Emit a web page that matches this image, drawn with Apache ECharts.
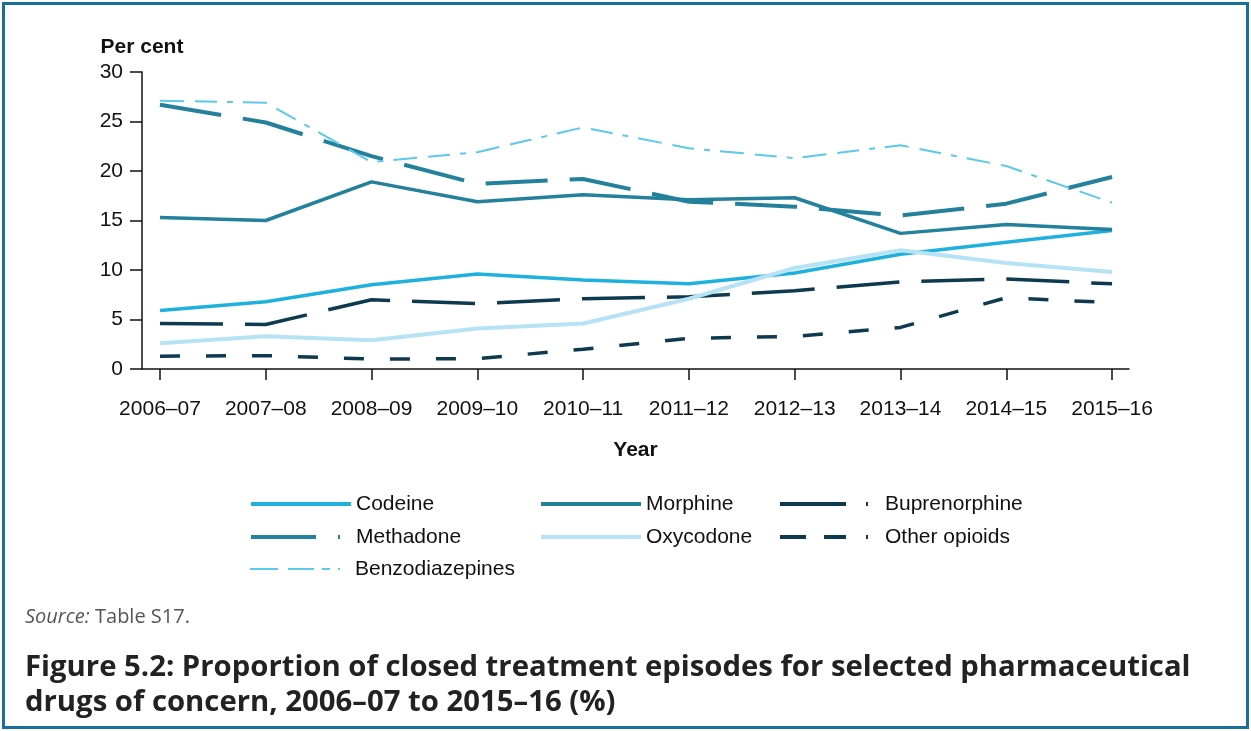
<!DOCTYPE html>
<html>
<head>
<meta charset="utf-8">
<script src="https://cdn.jsdelivr.net/npm/echarts@6/dist/echarts.min.js"></script>
<style>
  html, body { margin: 0; padding: 0; background: #fff; }
  #chart { width: 1251px; height: 731px; }
</style>
</head>
<body>
<div id="chart"></div>
<script>
// 年份（横轴）
const years = ['2006–07', '2007–08', '2008–09', '2009–10', '2010–11', '2011–12', '2012–13', '2013–14', '2014–15', '2015–16'];
const yTicks = [0, 5, 10, 15, 20, 25, 30];

const codeine = [5.9, 6.8, 8.5, 9.6, 9.0, 8.6, 9.7, 11.6, 12.8, 14.0];
const morphine = [15.3, 15.0, 18.9, 16.9, 17.6, 17.1, 17.3, 13.7, 14.6, 14.1];
const buprenorphine = [4.6, 4.5, 7.0, 6.6, 7.1, 7.3, 7.9, 8.8, 9.1, 8.6];
const methadone = [26.7, 24.9, 21.5, 18.7, 19.2, 16.9, 16.4, 15.5, 16.7, 19.4];
const oxycodone = [2.6, 3.3, 2.9, 4.1, 4.6, 7.1, 10.2, 12.0, 10.7, 9.8];
const otherOpioids = [1.3, 1.35, 1.0, 1.05, 2.0, 3.1, 3.3, 4.2, 7.2, 6.7];
const benzodiazepines = [27.1, 26.9, 20.9, 21.9, 24.4, 22.3, 21.3, 22.6, 20.5, 16.8];

const pairs = arr => arr.map((v, i) => [i, v]);

const chart = echarts.init(document.getElementById('chart'), null, {renderer: 'canvas'});

const font = '"Liberation Sans", Arial, sans-serif';

function line(name, data, color, width, type) {
  return {
    name: name,
    type: 'line',
    data: pairs(data),
    symbol: 'none',
    showSymbol: false,
    color: color,
    lineStyle: {color: color, width: width, type: type, cap: 'butt'},
    z: 3
  };
}

// 图例手动分三列摆放 [名称, left, top, 线宽, 线型]
const legendPos = [
  ['Codeine', 249, 493, 4, 'solid'],
  ['Methadone', 249, 526, 4, [65, 22, 2, 40]],
  ['Benzodiazepines', 249, 558, 2, [28, 10, 26, 8, 8, 8, 2, 40]],
  ['Morphine', 539, 493, 4, 'solid'],
  ['Oxycodone', 539, 526, 4, 'solid'],
  ['Buprenorphine', 778, 493, 4, [66, 20, 2, 40]],
  ['Other opioids', 778, 526, 4, [26, 18, 22, 20, 2, 40]]
];

chart.setOption({
  animation: false,
  title: [
    {
      text: '{i|Source:} Table S17.',
      left: 25,
      top: 607,
      padding: 0,
      textStyle: {
        fontFamily: '"Open Sans", sans-serif',
        fontSize: 20,
        fontWeight: 'normal',
        color: '#555',
        rich: {
          i: {fontFamily: '"Open Sans", sans-serif', fontSize: 20, fontStyle: 'italic', color: '#555'}
        }
      }
    },
    {
      text: 'Figure 5.2: Proportion of closed treatment episodes for selected pharmaceutical\ndrugs of concern, 2006–07 to 2015–16 (%)',
      left: 25,
      top: 650,
      padding: 0,
      textStyle: {
        fontFamily: '"Open Sans", sans-serif',
        fontSize: 29.3,
        fontWeight: 'bold',
        lineHeight: 35,
        color: '#222'
      }
    }
  ],
  legend: legendPos.map(p => ({
    data: [p[0]],
    left: p[1],
    top: p[2],
    itemWidth: 100,
    itemHeight: 20,
    padding: 0,
    selectedMode: false,
    itemStyle: {opacity: 0},
    lineStyle: {width: p[3], type: p[4], cap: 'butt'},
    textStyle: {fontFamily: font, fontSize: 21, color: '#111', lineHeight: 22}
  })),
  grid: {left: 142, right: 122, top: 72, bottom: 362, containLabel: false},
  xAxis: {
    type: 'value',
    min: -0.17,
    max: 9.16,
    name: 'Year',
    nameLocation: 'middle',
    nameGap: 71,
    nameTextStyle: {fontFamily: font, fontSize: 21, fontWeight: 'bold', color: '#111', letterSpacing: 1.5},
    axisLine: {show: true, onZero: false, lineStyle: {color: '#111', width: 1.5}},
    axisTick: {show: true, length: 11, customValues: years.map((y, i) => i), lineStyle: {color: '#111', width: 1.5}},
    axisLabel: {
      customValues: years.map((y, i) => i),
      formatter: v => years[Math.round(v)],
      fontFamily: font, fontSize: 21, color: '#111', margin: 30
    },
    splitLine: {show: false}
  },
  yAxis: {
    type: 'value',
    min: 0,
    max: 30,
    interval: 5,
    name: 'Per cent',
    nameGap: 14,
    nameTextStyle: {fontFamily: font, fontSize: 21, fontWeight: 'bold', color: '#111'},
    axisLine: {show: true, onZero: false, lineStyle: {color: '#111', width: 1.5}},
    axisTick: {show: true, length: 12, lineStyle: {color: '#111', width: 1.5}},
    axisLabel: {
      formatter: v => yTicks.indexOf(v) >= 0 ? String(v) : '',
      fontFamily: font, fontSize: 21, color: '#111', margin: 19
    },
    splitLine: {show: false}
  },
  series: [
    line('Codeine', codeine, '#1fb1de', 3.5, 'solid'),
    line('Morphine', morphine, '#23819b', 3.5, 'solid'),
    line('Buprenorphine', buprenorphine, '#0d3a4f', 3.5, [63, 22]),
    line('Methadone', methadone, '#23819b', 4, [62, 22]),
    line('Oxycodone', oxycodone, '#b5e2f4', 4, 'solid'),
    line('Other opioids', otherOpioids, '#0d3a4f', 3.5, [20, 26]),
    line('Benzodiazepines', benzodiazepines, '#5cc8ec', 2, [24, 11, 22, 10, 6, 10])
  ],
  graphic: [
    {
      type: 'rect',
      shape: {x: 3.5, y: 3.5, width: 1244, height: 724},
      style: {fill: 'none', stroke: '#18709a', lineWidth: 3},
      silent: true
    }
  ]
});
</script>
</body>
</html>
